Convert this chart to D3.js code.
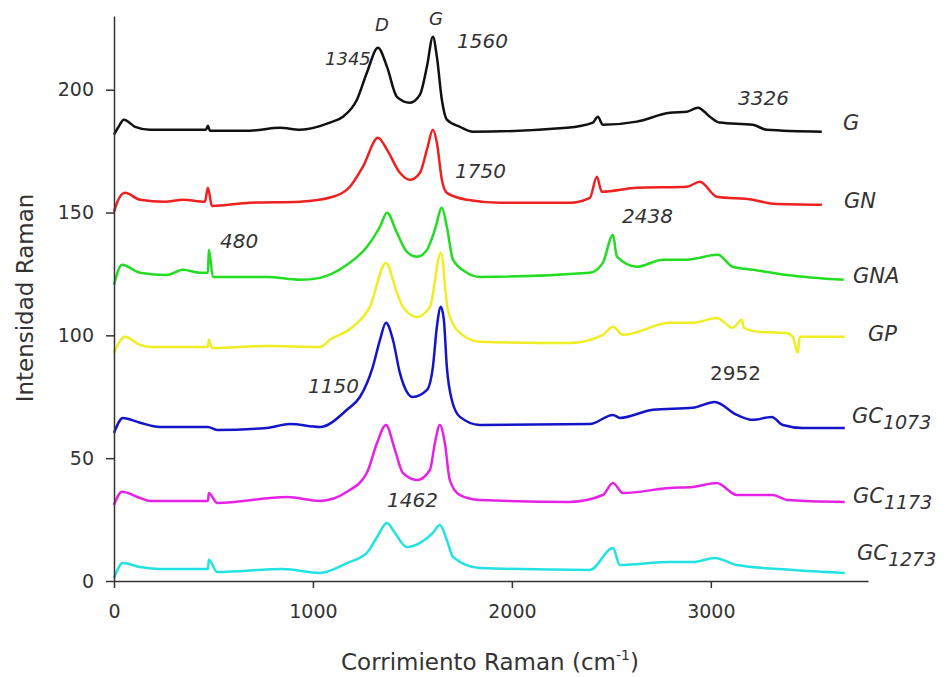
<!DOCTYPE html>
<html>
<head>
<meta charset="utf-8">
<script src="https://cdn.jsdelivr.net/npm/d3@7.9.0/dist/d3.min.js"></script>
<style>
  body { margin: 0; background: #fff; }
  svg text { font-family: "DejaVu Sans", Verdana, sans-serif; fill: #333; }
</style>
</head>
<body>
<svg id="chart" width="949" height="677"></svg>
<script>
// Raman spectra, values as [wavenumber, intensity]
const seriesG = [[0,181.7],[20,184.5],[50,187.8],[106,184.9],[181,183.7],[332,183.7],[462,183.7],[472,185.3],[482,183.3],[683,183.3],[834,184.5],[935,183.7],[1085,186.6],[1151,189.0],[1221,195.9],[1271,206.9],[1327,217.1],[1372,209.4],[1422,197.1],[1487,194.7],[1538,198.0],[1573,209.4],[1603,221.6],[1623,213.4],[1648,195.9],[1673,187.8],[1739,184.9],[1804,182.9],[2276,184.5],[2407,186.6],[2432,189.0],[2457,185.7],[2628,187.0],[2794,190.6],[2879,191.0],[2935,192.7],[2995,189.0],[3045,186.6],[3211,185.7],[3281,183.7],[3558,182.9]];
const seriesGN = [[0,150.3],[15,154.0],[55,158.0],[131,155.2],[256,154.4],[347,155.2],[457,154.4],[472,160.1],[492,152.7],[683,154.0],[935,154.4],[1100,156.4],[1186,160.5],[1251,168.6],[1327,180.4],[1372,175.6],[1437,166.2],[1487,163.3],[1538,166.2],[1573,175.6],[1603,183.7],[1623,178.4],[1648,163.3],[1673,158.0],[1774,155.2],[1940,154.0],[2291,154.0],[2392,156.0],[2427,164.6],[2452,158.5],[2628,160.1],[2879,160.5],[2945,162.5],[3030,156.4],[3211,155.2],[3311,153.6],[3558,153.2]];
const seriesGNA = [[0,120.6],[40,128.7],[131,125.5],[266,124.6],[347,126.7],[432,125.5],[472,125.5],[477,134.8],[497,123.8],[769,123.8],[935,122.6],[1035,123.4],[1171,128.7],[1271,136.0],[1337,144.2],[1372,149.9],[1422,141.8],[1472,134.0],[1523,132.0],[1573,134.8],[1613,143.0],[1648,151.9],[1673,144.2],[1704,130.8],[1774,125.5],[1839,123.8],[2392,125.5],[2457,129.5],[2508,140.9],[2528,132.0],[2628,127.9],[2759,130.8],[2879,130.8],[3035,132.8],[3110,127.9],[3211,126.7],[3382,124.6],[3668,122.6]];
const seriesGP = [[0,92.9],[55,99.4],[131,96.1],[181,95.3],[472,95.3],[477,98.2],[492,94.9],[769,95.7],[1035,95.3],[1085,98.2],[1201,103.5],[1286,111.6],[1367,129.5],[1422,117.3],[1452,111.6],[1523,107.5],[1588,111.6],[1643,133.6],[1678,110.4],[1739,101.0],[1839,97.4],[2291,96.9],[2457,100.2],[2508,103.5],[2558,100.2],[2794,105.1],[2909,105.1],[3030,107.1],[3110,103.1],[3156,106.3],[3166,103.1],[3246,101.4],[3382,101.0],[3412,99.4],[3437,92.9],[3447,99.4],[3673,99.4]];
const seriesGC1073 = [[0,60.3],[45,66.4],[131,64.4],[231,62.7],[472,62.7],[518,61.5],[769,62.3],[884,63.9],[1035,62.7],[1171,69.7],[1236,74.9],[1301,87.2],[1337,98.2],[1367,105.1],[1402,98.2],[1437,84.7],[1472,77.0],[1502,74.9],[1573,77.8],[1603,87.2],[1623,103.5],[1643,111.6],[1658,106.3],[1673,87.2],[1698,73.7],[1739,66.8],[1839,63.5],[2392,63.9],[2508,67.6],[2543,66.4],[2709,69.7],[2909,70.5],[3020,72.9],[3131,67.6],[3211,65.6],[3306,66.8],[3362,63.5],[3462,62.3],[3673,62.3]];
const seriesGC1173 = [[0,31.0],[40,36.3],[131,33.8],[181,32.6],[472,32.6],[477,35.8],[518,31.8],[869,34.2],[1035,32.6],[1171,36.3],[1271,44.0],[1322,56.2],[1367,63.5],[1412,53.4],[1452,44.0],[1523,41.1],[1588,45.2],[1613,56.2],[1638,63.5],[1663,56.2],[1688,41.1],[1739,35.0],[1839,33.0],[2291,32.2],[2457,35.0],[2508,39.9],[2558,35.8],[2794,37.9],[2909,38.3],[3030,39.9],[3131,35.0],[3311,35.0],[3382,33.0],[3673,32.2]];
const seriesGC1273 = [[0,1.2],[45,7.3],[131,5.7],[231,4.9],[472,4.9],[477,8.6],[518,3.7],[849,4.9],[1035,3.3],[1171,7.3],[1271,11.4],[1322,17.9],[1372,23.6],[1412,19.6],[1472,13.8],[1538,15.5],[1603,19.6],[1638,22.8],[1673,16.7],[1704,9.8],[1839,5.3],[2392,4.5],[2508,13.4],[2543,6.5],[2794,7.7],[2909,7.7],[3020,9.4],[3131,6.5],[3412,4.5],[3673,3.3]];

const allSeries = [seriesG, seriesGN, seriesGNA, seriesGP, seriesGC1073, seriesGC1173, seriesGC1273];
const seriesMain = ['G', 'GN', 'GNA', 'GP', 'GC', 'GC', 'GC'];
const seriesSub = ['', '', '', '', '1073', '1173', '1273'];
const seriesColors = ['#111111', '#ee2020', '#22dd22', '#eeee22', '#1414c8', '#e622e6', '#22e2e2'];

const xTicks = [0, 1000, 2000, 3000];
const yTicks = [0, 50, 100, 150, 200];

const peakLabels = ['D', 'G', '1345', '1560', '1750', '3326', '2438', '480', '1150', '2952', '1462'];

const svg = d3.select('#chart');

const x = d3.scaleLinear().domain([0, 3790]).range([114, 868]);
const y = d3.scaleLinear().domain([0, 230]).range([581, 16]);

const line = d3.line()
  .x(d => x(d[0]))
  .y(d => y(d[1]))
  .curve(d3.curveMonotoneX);

// spectra
allSeries.forEach((s, i) => {
  svg.append('path')
    .attr('d', line(s))
    .attr('fill', 'none')
    .attr('stroke', seriesColors[i])
    .attr('stroke-width', 2.5)
    .attr('stroke-linejoin', 'round');
});

// axes
const gx = svg.append('g')
  .attr('transform', `translate(0,${y(0)})`)
  .call(d3.axisBottom(x).tickValues(xTicks).tickFormat(d3.format('d'))
    .tickSize(7).tickPadding(17).tickSizeOuter(0));

const gy = svg.append('g')
  .attr('transform', `translate(${x(0)},0)`)
  .call(d3.axisLeft(y).tickValues(yTicks).tickSize(8).tickPadding(12).tickSizeOuter(0));

[gx, gy].forEach(g => {
  g.attr('font-family', null).attr('font-size', null);
  g.selectAll('path, line').attr('stroke', '#333').attr('stroke-width', 1.5);
  g.selectAll('text').attr('fill', '#333').style('font-size', '19px');
});

// axis titles
const xTitle = svg.append('text')
  .attr('x', 490)
  .attr('y', 670)
  .attr('text-anchor', 'middle')
  .style('font-size', '23px');
xTitle.append('tspan').text('Corrimiento Raman (cm');
xTitle.append('tspan').attr('dy', -10).style('font-size', '14px').text('-1');
xTitle.append('tspan').attr('dy', 10).text(')');

svg.append('text')
  .attr('transform', 'translate(33,298) rotate(-90)')
  .attr('text-anchor', 'middle')
  .style('font-size', '23px')
  .text('Intensidad Raman');

// peak annotations: [left x, baseline y, size, italic]
const peakPos = [
  [375, 31, 18, true], [429, 25, 18, true], [325, 65, 18, true], [457, 48, 20, true],
  [455, 178, 20, true], [738, 105, 20, true], [622, 223, 20, true], [220, 248, 20, true],
  [308, 393, 20, true], [710, 380, 20, false], [387, 507, 20, true]
];
peakLabels.forEach((t, i) => {
  const p = peakPos[i];
  svg.append('text')
    .attr('x', p[0])
    .attr('y', p[1])
    .style('font-size', p[2] + 'px')
    .style('font-style', p[3] ? 'italic' : 'normal')
    .text(t);
});

// series names at the right end
const namePos = [[843, 130], [844, 208], [853, 283], [868, 341], [852, 423], [853, 503], [857, 560]];
seriesMain.forEach((t, i) => {
  const lbl = svg.append('text')
    .attr('x', namePos[i][0])
    .attr('y', namePos[i][1])
    .style('font-size', '21px')
    .style('font-style', 'italic');
  lbl.append('tspan').text(t);
  if (seriesSub[i]) {
    lbl.append('tspan').attr('dy', 6).style('font-size', '19px').text(seriesSub[i]);
  }
});
</script>
</body>
</html>
